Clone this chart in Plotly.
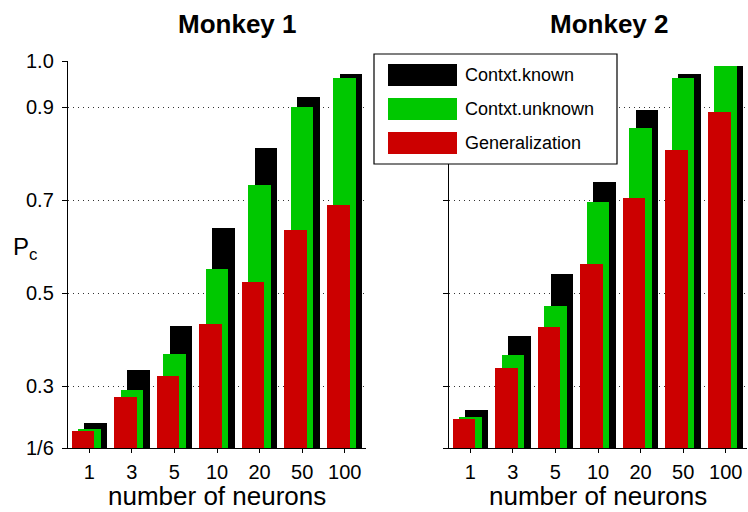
import plotly.graph_objects as go

# ---- data ----
neurons = ["1", "3", "5", "10", "20", "50", "100"]
series_names = ["Contxt.known", "Contxt.unknown", "Generalization"]

m1_known = [0.220, 0.334, 0.430, 0.640, 0.813, 0.922, 0.972]
m1_unknown = [0.208, 0.291, 0.370, 0.552, 0.732, 0.901, 0.964]
m1_general = [0.204, 0.276, 0.322, 0.434, 0.525, 0.636, 0.691]

m2_known = [0.248, 0.408, 0.542, 0.739, 0.894, 0.973, 0.990]
m2_unknown = [0.233, 0.367, 0.472, 0.697, 0.856, 0.963, 0.990]
m2_general = [0.229, 0.340, 0.428, 0.562, 0.706, 0.808, 0.891]

y_tickvals = [1/6, 0.3, 0.5, 0.7, 0.9, 1.0]
y_ticktext = ["1/6", "0.3", "0.5", "0.7", "0.9", "1.0"]

colors = ["#000000", "#00C800", "#CC0000"]

W, H = 748, 512
def px(x):
    return x / W
def py(y):
    return 1 - y / H

BW = 0.53
offsets = [0.152 - BW / 2, -BW / 2, -0.152 - BW / 2]

fig = go.Figure()
panels = [(m1_known, m1_unknown, m1_general, "x", "y"),
          (m2_known, m2_unknown, m2_general, "x2", "y2")]
for vals_k, vals_u, vals_g, xa, ya in panels:
    for name, vals, col, off in zip(series_names, [vals_k, vals_u, vals_g], colors, offsets):
        fig.add_trace(go.Bar(
            x=neurons, y=vals, name=name, marker=dict(color=col, line=dict(width=0)),
            width=BW, offset=off, xaxis=xa, yaxis=ya, showlegend=False,
        ))

font_family = "Liberation Sans, Arial, sans-serif"
xcommon = dict(type="category", range=[-0.5, 6.5], showline=True, linecolor="black",
               linewidth=1.2, ticks="outside", ticklen=4, tickcolor="black",
               tickfont=dict(size=20, color="black", family=font_family),
               showgrid=False, zeroline=False, fixedrange=True, ticklabelstandoff=2)
ycommon = dict(range=[1/6, 1.0], tickvals=y_tickvals, ticktext=y_ticktext,
               showline=True, linecolor="black", linewidth=1.2, ticks="outside",
               ticklen=5, tickcolor="black",
               tickfont=dict(size=20, color="black", family=font_family),
               showgrid=True, gridcolor="#333333", gridwidth=1, griddash="1px,4px",
               zeroline=False, fixedrange=True, ticklabelstandoff=4)

fig.update_layout(
    width=W, height=H, margin=dict(l=0, r=0, t=0, b=0, autoexpand=False),
    paper_bgcolor="white", plot_bgcolor="white", barmode="overlay", bargap=0,
    showlegend=False,
    font=dict(family=font_family, color="black"),
    xaxis=dict(domain=[px(68), px(366)], anchor="y", **xcommon),
    yaxis=dict(domain=[py(448), py(61)], anchor="x", **ycommon),
    xaxis2=dict(domain=[px(449), px(747)], anchor="y2", **xcommon),
    yaxis2=dict(domain=[py(448), py(61)], anchor="x2", showticklabels=False, **ycommon),
)

ann = []
ann.append(dict(text="<b>Monkey 1</b>", x=px(237), y=py(24), xref="paper", yref="paper",
                showarrow=False, font=dict(size=26), xanchor="center", yanchor="middle"))
ann.append(dict(text="<b>Monkey 2</b>", x=px(609), y=py(24), xref="paper", yref="paper",
                showarrow=False, font=dict(size=26), xanchor="center", yanchor="middle"))
ann.append(dict(text="number of neurons", x=px(217), y=py(496), xref="paper", yref="paper",
                showarrow=False, font=dict(size=26), xanchor="center", yanchor="middle"))
ann.append(dict(text="number of neurons", x=px(598), y=py(496), xref="paper", yref="paper",
                showarrow=False, font=dict(size=26), xanchor="center", yanchor="middle"))
ann.append(dict(text="P<sub>c</sub>", x=px(11), y=py(248), xref="paper", yref="paper",
                showarrow=False, font=dict(size=24), xanchor="left", yanchor="middle"))

# legend box (drawn manually for large swatches)
shapes = [dict(type="rect", xref="paper", yref="paper", x0=px(374), x1=px(617),
               y0=py(164), y1=py(54), fillcolor="white", line=dict(color="black", width=1.2),
               layer="above")]
rows = [(64, 86), (98, 120), (132, 154)]
for (t, b), col, name in zip(rows, colors, series_names):
    shapes.append(dict(type="rect", xref="paper", yref="paper", x0=px(388), x1=px(457),
                       y0=py(b), y1=py(t), fillcolor=col, line=dict(width=0), layer="above"))
    ann.append(dict(text=name, x=px(463), y=py((t + b) / 2), xref="paper", yref="paper",
                    showarrow=False, font=dict(size=18), xanchor="left", yanchor="middle"))

fig.update_layout(annotations=ann, shapes=shapes)
fig.write_html("out.html", config={"displayModeBar": False, "staticPlot": True},
               post_script="document.body.style.margin='0px';")
